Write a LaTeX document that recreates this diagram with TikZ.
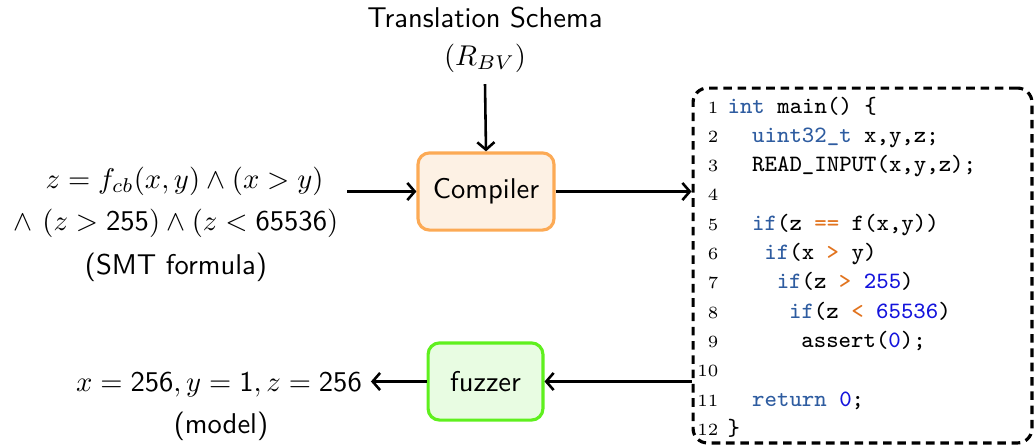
\documentclass[tikz,border=0pt]{standalone}
\usepackage{amsmath}
\usetikzlibrary{arrows.meta}
\renewcommand{\familydefault}{\sfdefault}
\definecolor{kwblue}{RGB}{46,92,160}
\definecolor{numblue}{RGB}{20,20,220}
\definecolor{opor}{RGB}{225,115,30}
\definecolor{compdraw}{RGB}{252,170,85}
\definecolor{compfill}{RGB}{253,241,228}
\definecolor{fuzzdraw}{RGB}{95,240,30}
\definecolor{fuzzfill}{RGB}{232,252,226}
\newcommand{\ckw}[1]{\textcolor{kwblue}{#1}}
\newcommand{\cnm}[1]{\textcolor{numblue}{#1}}
\newcommand{\cop}[1]{\textcolor{opor}{#1}}
\begin{document}
\begin{tikzpicture}[x=0.35pt,y=-0.35pt,>={Straight Barb[length=2.6pt,width=6pt]}]
\tikzset{
  txt/.style={font=\fontsize{10}{12}\selectfont, inner sep=1pt},
  procbox/.style={draw, rounded corners=4pt, line width=1.1pt, font=\fontsize{10}{12}\selectfont},
  conn/.style={line width=0.9pt,->},
  codeln/.style={anchor=base west, inner sep=0pt, font=\ttfamily\fontsize{8.2}{10}\selectfont},
  lnum/.style={anchor=base east, inner sep=0pt, font=\rmfamily\fontsize{6}{7}\selectfont},
  codebox/.style={draw, dashed, line width=1.1pt, rounded corners=5pt, dash pattern=on 3pt off 2pt}
}
\useasboundingbox (0,0) rectangle (1035,446);

% boxes
\node[procbox, draw=compdraw, fill=compfill, minimum width=47.6pt, minimum height=27pt] (comp) at (486,191.5) {Compiler};
\node[procbox, draw=fuzzdraw, fill=fuzzfill, minimum width=40.2pt, minimum height=27pt] (fuzz) at (485.5,381.5) {fuzzer};
\node[codebox, minimum width=118.6pt, minimum height=124.2pt] (code) at (862.5,265.5) {};

% texts
\node[txt, align=center, anchor=base] (schema) at (485,65) {Translation Schema\\[1pt]$(R_{BV})$};
\node[txt, align=center, anchor=base] (formula) at (176,230) {\hspace*{6pt}$z = f_{cb}(x,y) \wedge (x > y)$\\[2.5pt]$\wedge\ (z > \mathsf{255}) \wedge (z < \mathsf{65536})$};
\node[txt, anchor=base] (smtlbl) at (176,274) {(SMT formula)};
\node[txt, anchor=base] (model) at (219,391) {$x = \mathsf{256}, y = \mathsf{1}, z = \mathsf{256}$};
\node[txt, anchor=base] (modellbl) at (221,433) {(model)};

% connectors
\draw[conn] ([yshift=-3pt]schema.south) -- (comp.north);
\draw[conn] ([xshift=2pt]formula.east |- comp.west) -- (comp.west);
\draw[conn] (comp.east) -- (code.west |- comp.east);
\draw[conn] (code.west |- fuzz.east) -- (fuzz.east);
\draw[conn] (fuzz.west) -- ([xshift=2pt]model.east |- fuzz.west);

% code
\foreach \i in {1,...,12} {
  \node[lnum] (n\i) at (719,{113+(\i-1)*29.3}) {\i};
}
\node[codeln] (l1) at (727,113) {\ckw{int} main() \{};
\node[codeln] (l2) at (751.6,142.3) {\ckw{uint32\_t} x,y,z;};
\node[codeln] (l3) at (751.6,171.6) {READ\_INPUT(x,y,z);};
\node[codeln] (l5) at (751.6,230.2) {\ckw{if}(z \cop{==} f(x,y))};
\node[codeln] (l6) at (763.9,259.5) {\ckw{if}(x \cop{>} y)};
\node[codeln] (l7) at (776.2,288.8) {\ckw{if}(z \cop{>} \cnm{255})};
\node[codeln] (l8) at (788.5,318.1) {\ckw{if}(z \cop{<} \cnm{65536})};
\node[codeln] (l9) at (800.8,347.4) {assert(\cnm{0});};
\node[codeln] (l11) at (751.6,406) {\ckw{return} \cnm{0};};
\node[codeln] (l12) at (727,435.3) {\}};
\end{tikzpicture}
\end{document}
